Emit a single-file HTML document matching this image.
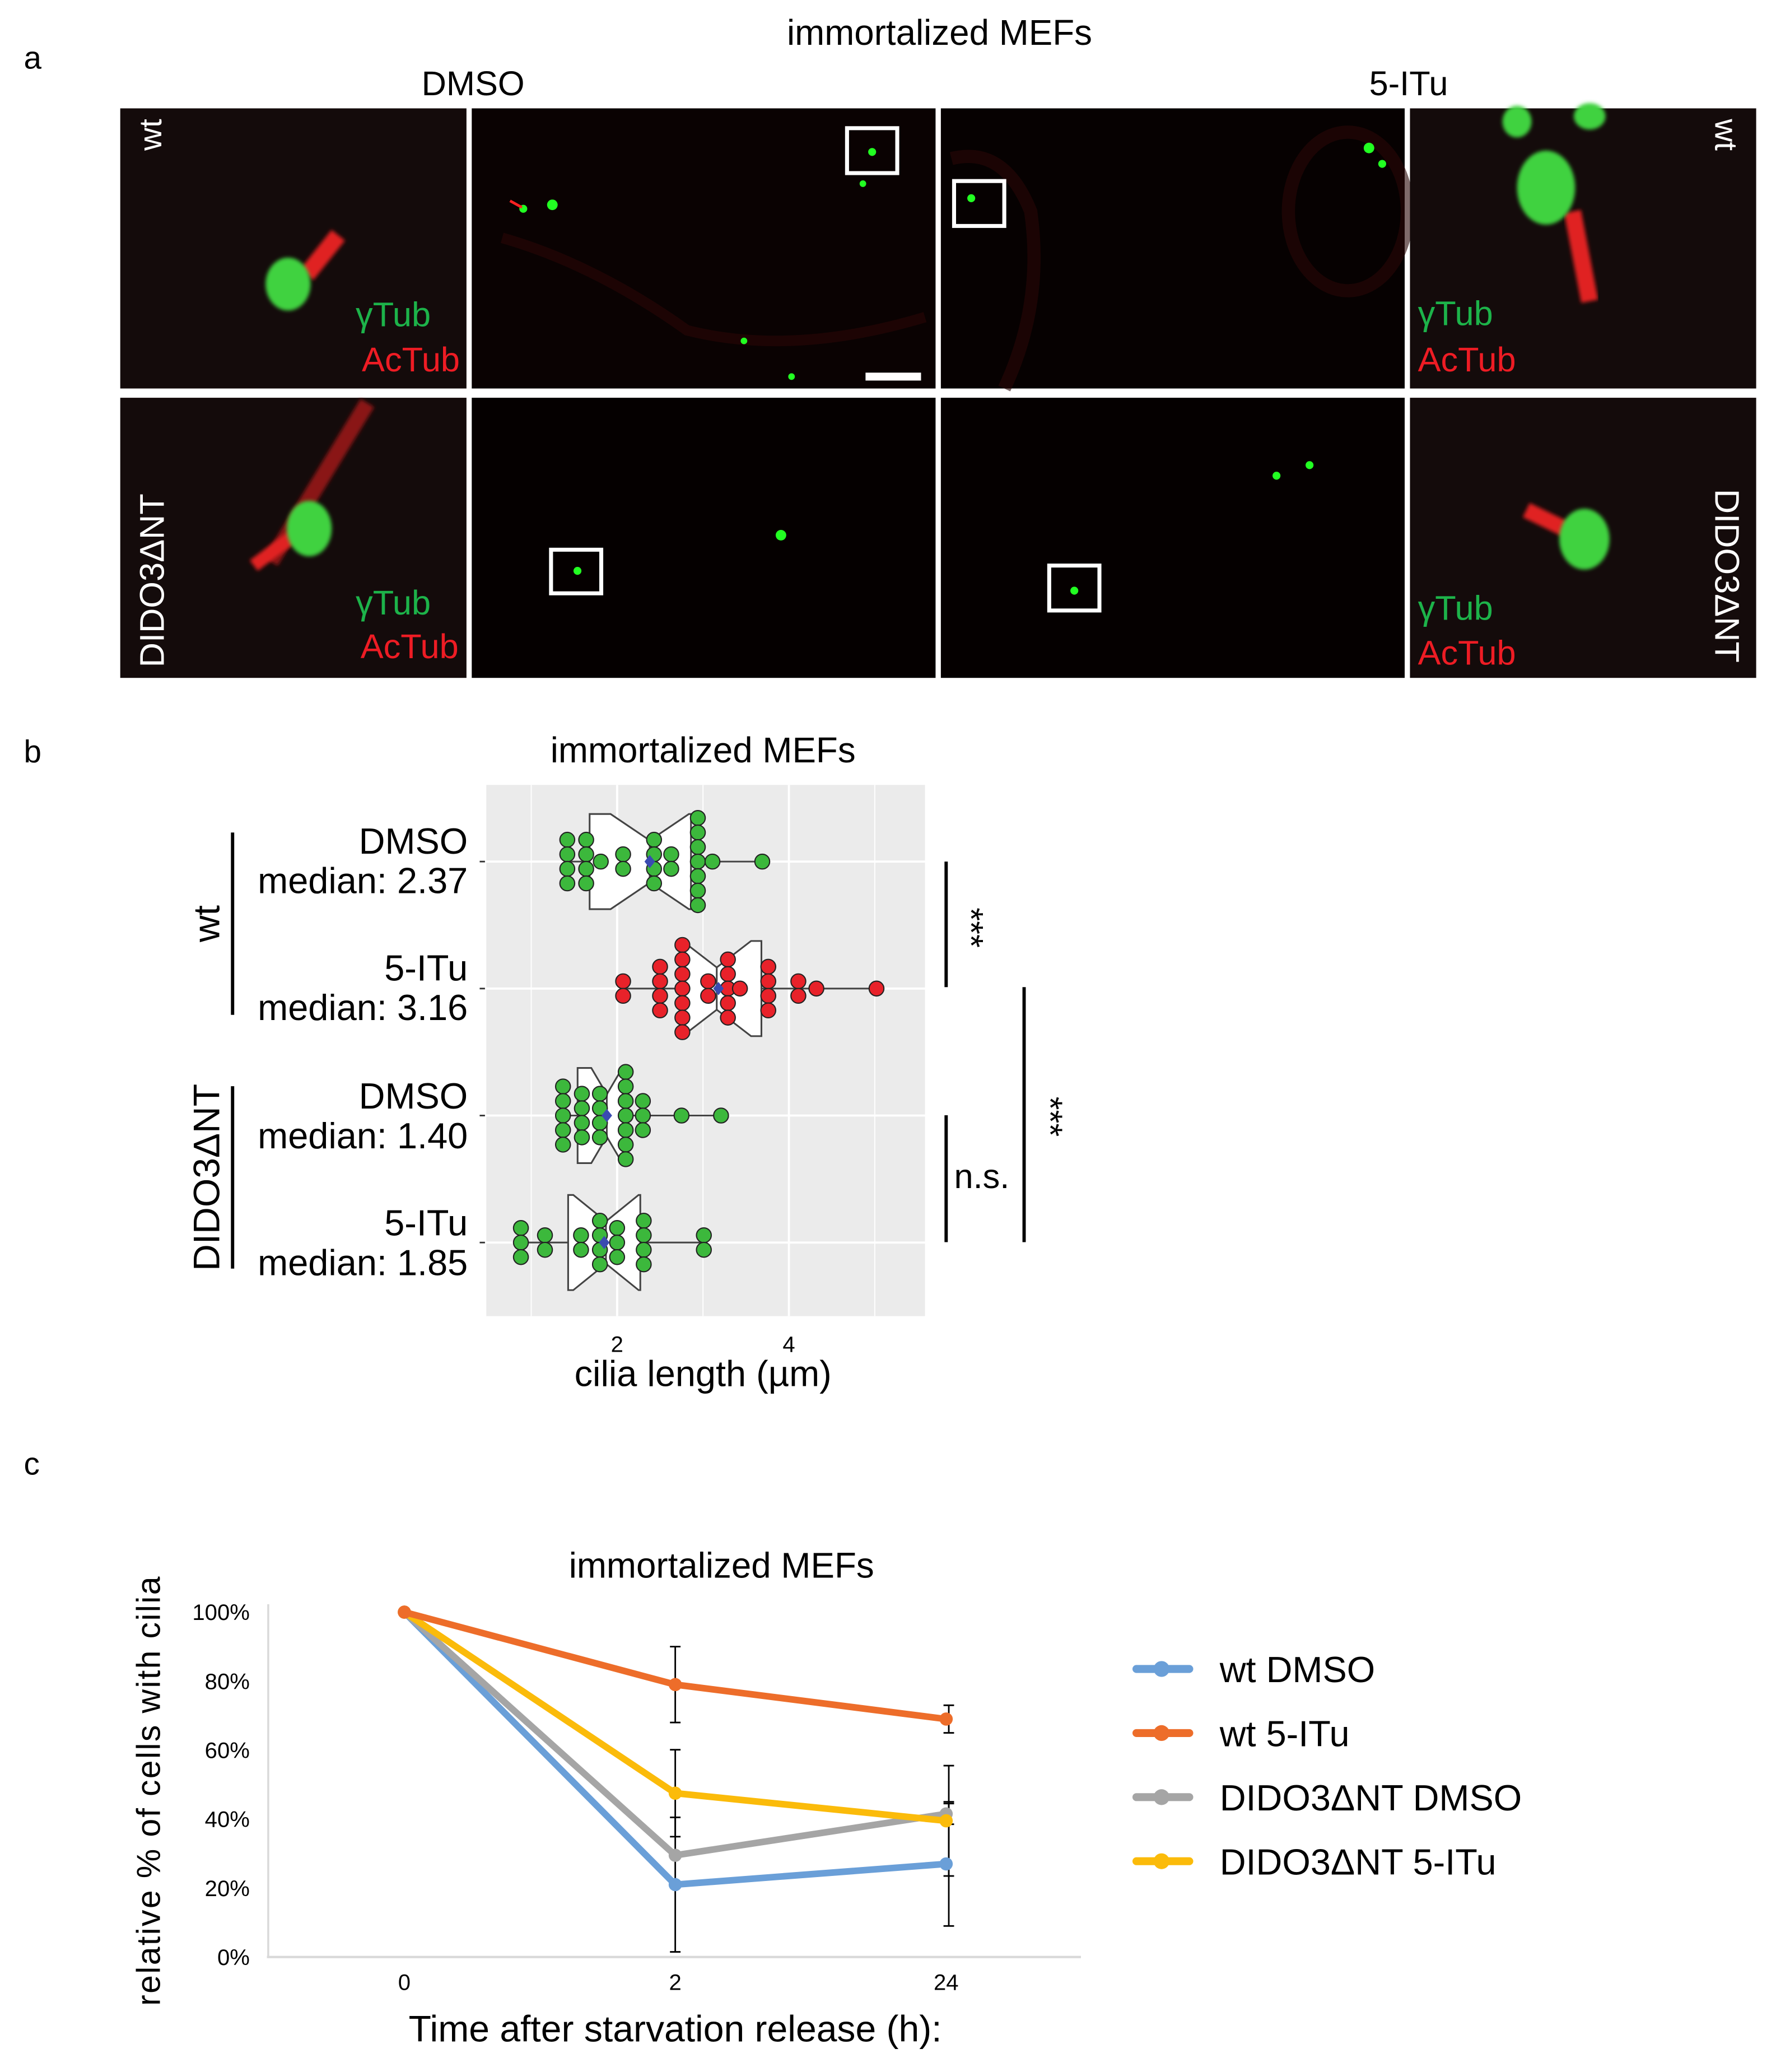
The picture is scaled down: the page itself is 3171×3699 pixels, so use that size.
<!DOCTYPE html>
<html><head><meta charset="utf-8"><style>
html,body{margin:0;padding:0;background:#fff}
svg{display:block}
text{font-family:"Liberation Sans",sans-serif}
</style></head><body>
<svg id="fig" width="3171" height="3699" viewBox="0 0 1344 1568" preserveAspectRatio="none" xmlns="http://www.w3.org/2000/svg">
<defs>
<filter id="bl" x="-50%" y="-50%" width="200%" height="200%"><feGaussianBlur stdDeviation="1.5"/></filter>
</defs>
<rect width="1344" height="1568" fill="#fff"/>
<!-- Panel a -->
<g>
<text x="18" y="52" font-size="24">a</text>
<text x="711" y="34" font-size="27" text-anchor="middle">immortalized MEFs</text>
<text x="358" y="72" font-size="26" text-anchor="middle">DMSO</text>
<text x="1066" y="72" font-size="26" text-anchor="middle">5-ITu</text>
<!-- row 1 -->
<g>
<rect x="91" y="82" width="262" height="212" fill="#140b0b"/>
<line x1="232" y1="208" x2="256" y2="178" stroke="#e02020" stroke-width="13" filter="url(#bl)"/>
<ellipse cx="218" cy="215" rx="17" ry="20" fill="#3fd23f" filter="url(#bl)"/>
<text transform="translate(122,90) rotate(-90)" font-size="24" fill="#fff" text-anchor="end">wt</text>
<text x="326" y="247" font-size="26" fill="#1db34a" text-anchor="end">γTub</text>
<text x="348" y="281" font-size="26" fill="#ee1c24" text-anchor="end">AcTub</text>
</g>
<g>
<rect x="357" y="82" width="351" height="212" fill="#0a0202"/>
<path d="M380 180 Q450 200 520 250 Q600 270 700 240" stroke="#2a0606" stroke-width="8" fill="none" opacity="0.6"/>
<circle cx="396" cy="158" r="3" fill="#2f2"/><circle cx="418" cy="155" r="4" fill="#2f2"/>
<circle cx="660" cy="115" r="3" fill="#2f2"/><circle cx="653" cy="139" r="2.5" fill="#2f2"/>
<circle cx="563" cy="258" r="2.5" fill="#2f2"/><circle cx="599" cy="285" r="2.5" fill="#2f2"/>
<line x1="386" y1="152" x2="395" y2="157" stroke="#f22" stroke-width="2"/>
<rect x="641" y="97" width="38" height="34" fill="none" stroke="#fff" stroke-width="3"/>
<rect x="655" y="282" width="42" height="6" fill="#fff"/>
</g>
<g>
<rect x="712" y="82" width="351" height="212" fill="#060101"/>
<ellipse cx="1020" cy="160" rx="45" ry="60" stroke="#2a0606" stroke-width="10" fill="none" opacity="0.6"/>
<path d="M720 120 Q760 110 780 160 Q790 230 760 294" stroke="#2a0606" stroke-width="10" fill="none" opacity="0.6"/>
<circle cx="735" cy="150" r="3" fill="#2f2"/><circle cx="1036" cy="112" r="4" fill="#2f2"/><circle cx="1046" cy="124" r="3" fill="#2f2"/>
<rect x="722" y="137" width="38" height="34" fill="none" stroke="#fff" stroke-width="3"/>
</g>
<g>
<rect x="1067" y="82" width="262" height="212" fill="#140b0b"/>
<line x1="1190" y1="160" x2="1203" y2="228" stroke="#e02020" stroke-width="13" filter="url(#bl)"/>
<ellipse cx="1170" cy="142" rx="22" ry="28" fill="#3fd23f" filter="url(#bl)"/>
<ellipse cx="1148" cy="92" rx="11" ry="12" fill="#3fd23f" filter="url(#bl)"/>
<ellipse cx="1203" cy="88" rx="12" ry="10" fill="#3fd23f" filter="url(#bl)"/>
<text transform="translate(1298,90) rotate(90)" font-size="24" fill="#fff">wt</text>
<text x="1073" y="246" font-size="26" fill="#1db34a">γTub</text>
<text x="1073" y="281" font-size="26" fill="#ee1c24">AcTub</text>
</g>
<!-- row 2 -->
<g>
<rect x="91" y="301" width="262" height="212" fill="#140b0b"/>
<line x1="205" y1="425" x2="278" y2="305" stroke="#8a1515" stroke-width="12" filter="url(#bl)"/>
<line x1="192" y1="428" x2="232" y2="398" stroke="#e02020" stroke-width="10" filter="url(#bl)"/>
<ellipse cx="234" cy="400" rx="17" ry="21" fill="#3fd23f" filter="url(#bl)"/>
<text transform="translate(124,505) rotate(-90)" font-size="26" fill="#fff">DIDO3ΔNT</text>
<text x="326" y="465" font-size="26" fill="#1db34a" text-anchor="end">γTub</text>
<text x="347" y="498" font-size="26" fill="#ee1c24" text-anchor="end">AcTub</text>
</g>
<g>
<rect x="357" y="301" width="351" height="212" fill="#050000"/>
<circle cx="437" cy="432" r="3" fill="#2f2"/><circle cx="591" cy="405" r="4" fill="#2f2"/>
<rect x="417" y="416" width="38" height="33" fill="none" stroke="#fff" stroke-width="3"/>
</g>
<g>
<rect x="712" y="301" width="351" height="212" fill="#050000"/>
<circle cx="813" cy="447" r="3" fill="#2f2"/><circle cx="966" cy="360" r="3" fill="#2f2"/><circle cx="991" cy="352" r="3" fill="#2f2"/>
<rect x="794" y="428" width="38" height="34" fill="none" stroke="#fff" stroke-width="3"/>
</g>
<g>
<rect x="1067" y="301" width="262" height="212" fill="#140b0b"/>
<line x1="1155" y1="386" x2="1190" y2="403" stroke="#e02020" stroke-width="12" filter="url(#bl)"/>
<ellipse cx="1199" cy="408" rx="19" ry="23" fill="#3fd23f" filter="url(#bl)"/>
<text transform="translate(1298,370) rotate(90)" font-size="26" fill="#fff">DIDO3ΔNT</text>
<text x="1073" y="469" font-size="26" fill="#1db34a">γTub</text>
<text x="1073" y="503" font-size="26" fill="#ee1c24">AcTub</text>
</g>
</g>

<!-- Panel b -->
<g id="pb">
<text x="18" y="577" font-size="24">b</text>
<text x="532" y="577" font-size="27" text-anchor="middle">immortalized MEFs</text>
<rect x="368" y="594" width="332" height="402" fill="#ebebeb"/>
<g id="pbgrid"></g>
<g id="pbmarks"></g>
<g font-size="27.5" text-anchor="end">
<text x="354" y="646">DMSO</text><text x="354" y="676">median: 2.37</text>
<text x="354" y="742">5-ITu</text><text x="354" y="772">median: 3.16</text>
<text x="354" y="839">DMSO</text><text x="354" y="869">median: 1.40</text>
<text x="354" y="935">5-ITu</text><text x="354" y="965">median: 1.85</text>
</g>
<line x1="176" y1="630" x2="176" y2="768" stroke="#000" stroke-width="2.5"/>
<text transform="translate(166,699) rotate(-90)" font-size="28" text-anchor="middle">wt</text>
<line x1="176" y1="822" x2="176" y2="960" stroke="#000" stroke-width="2.5"/>
<text transform="translate(166,891) rotate(-90)" font-size="28" text-anchor="middle">DIDO3ΔNT</text>
<g>
<line x1="716" y1="652" x2="716" y2="747" stroke="#000" stroke-width="2.5"/>
<text transform="translate(726,702) rotate(90)" font-size="26" text-anchor="middle">***</text>
<line x1="716" y1="844" x2="716" y2="940" stroke="#000" stroke-width="2.5"/>
<text x="722" y="899" font-size="26">n.s.</text>
<line x1="775" y1="747" x2="775" y2="940" stroke="#000" stroke-width="2.5"/>
<text transform="translate(786,845) rotate(90)" font-size="26" text-anchor="middle">***</text>
</g>
<text x="532" y="1049" font-size="27.5" text-anchor="middle">cilia length (µm)</text>
</g>

<!-- Panel c -->
<g id="pc">
<text x="18" y="1116" font-size="24">c</text>
<text x="546" y="1194" font-size="27" text-anchor="middle">immortalized MEFs</text>
<text transform="translate(121,1355) rotate(-90)" font-size="25" text-anchor="middle" letter-spacing="1">relative % of cells with cilia</text>
<text x="511" y="1545" font-size="28" text-anchor="middle">Time after starvation release (h):</text>
<g id="pcaxes"></g>
<g id="pcmarks"></g>
<g id="pclegend"></g>
</g>
</svg>
<script>
// ---- Panel b data ----
const bRows = ["wt DMSO","wt 5-ITu","DIDO3ΔNT DMSO","DIDO3ΔNT 5-ITu"];
const bTicks = [2,4];
const bDots1 = [1.42,1.42,1.42,1.42,1.64,1.64,1.64,1.64,1.81,2.07,2.07,2.43,2.43,2.43,2.43,2.63,2.63,2.94,2.94,2.94,2.94,2.94,2.94,2.94,3.11,3.69];
const bDots2 = [2.07,2.07,2.5,2.5,2.5,2.5,2.76,2.76,2.76,2.76,2.76,2.76,2.76,3.06,3.06,3.29,3.29,3.29,3.29,3.29,3.43,3.76,3.76,3.76,3.76,4.11,4.11,4.32,5.02];
const bDots3 = [1.37,1.37,1.37,1.37,1.37,1.59,1.59,1.59,1.59,1.8,1.8,1.8,1.8,2.1,2.1,2.1,2.1,2.1,2.1,2.1,2.3,2.3,2.3,2.75,3.21];
const bDots4 = [0.88,0.88,0.88,1.16,1.16,1.58,1.58,1.8,1.8,1.8,1.8,2.0,2.0,2.0,2.31,2.31,2.31,2.31,3.01,3.01];
const bQ1 = [1.68,2.74,1.54,1.43];
const bMed = [2.38,3.16,1.88,1.87];
const bQ3 = [2.86,3.68,2.07,2.27];
const bMean = [2.38,3.18,1.88,1.85];
const bColors = ["#3cb83c","#e8222a","#3cb83c","#3cb83c"];

const NS="http://www.w3.org/2000/svg";
function mk(tag, attrs, parent){const e=document.createElementNS(NS,tag);for(const k in attrs)e.setAttribute(k,attrs[k]);parent.appendChild(e);return e;}
const bx = v => 337 + v*65;
const by = i => 652 + i*96.1;
const gridG=document.getElementById('pbgrid');
for (let v=1; v<=5; v++){
  const l=mk('line',{x1:bx(v),x2:bx(v),y1:594,y2:996,stroke:'#fff','stroke-width':v%2===0?1.6:0.8},gridG);
  
  
}
bRows.forEach((r,i)=>{
  const l=mk('line',{x1:368,x2:700,y1:by(i),y2:by(i),stroke:'#fff','stroke-width':1.6},gridG);
  
  
  const t=mk('line',{x1:363,x2:367,y1:by(i),y2:by(i),stroke:'#333','stroke-width':1.2},gridG);
  
  
});
bTicks.forEach(v=>{
  const t=mk('text',{x:bx(v),y:1023,'font-size':17,'text-anchor':'middle'},gridG);
  t.textContent=v;
  
  
});
const marks=document.getElementById('pbmarks');
[bDots1,bDots2,bDots3,bDots4].forEach((dots,i)=>{
  const y=by(i), h=36, nh=16;
  const mn=Math.min(...dots), mx=Math.max(...dots);
  const g=mk('g',{},marks);
  
  
  const w=mk('line',{x1:bx(mn),x2:bx(mx),y1:y,y2:y,stroke:'#444','stroke-width':1.3},g);
  
  
  const q1=bx(bQ1[i]),q3=bx(bQ3[i]),m=bx(bMed[i]);
  const nw=Math.min(m-q1,q3-m)*0.95;
  const p=mk('path',{d:`M${q1},${y-h} L${m-nw},${y-h} L${m},${y-h+nh+4} L${m+nw},${y-h} L${q3},${y-h} L${q3},${y+h} L${m+nw},${y+h} L${m},${y+h-nh-4} L${m-nw},${y+h} L${q1},${y+h} Z`,fill:'#fff',stroke:'#444','stroke-width':1.3},g);
  
  
  const ml=mk('line',{x1:m,x2:m,y1:y-h+nh+4,y2:y+h-nh-4,stroke:'#444','stroke-width':1.3},g);
  
  
  const counts={};
  dots.forEach(v=>{counts[v]=(counts[v]||0)+1;});
  const seen={};
  dots.forEach(v=>{
    const n=counts[v]; const k=seen[v]||0; seen[v]=k+1;
    const cy=y+(k-(n-1)/2)*11;
    const c=mk('circle',{cx:bx(v),cy:cy,r:5.6,fill:bColors[i],stroke:'#222','stroke-width':0.9},g);
    
    
  });
  const mx0=bx(bMean[i]);
  const d=mk('path',{d:`M${mx0},${y-5} L${mx0+4},${y} L${mx0},${y+5} L${mx0-4},${y} Z`,fill:'#3a4bb0'},g);
  
  
});

// ---- Panel c data ----
const cCats = ["0","2","24"];
const cSeries = ["wt DMSO","wt 5-ITu","DIDO3ΔNT DMSO","DIDO3ΔNT 5-ITu"];
const cColors = ["#6a9fd8","#ed6d2a","#a5a5a5","#fbbb0a"];
const wtDmso = [100,21,27];
const wtItu = [100,79,69];
const didoDmso = [100,29.5,41.5];
const didoItu = [100,47.5,39.5];
const errWtDmso = [0,19.5,18];
const errWtItu = [0,11,4];
const errDidoDmso = [0,0,3];
const errDidoItu = [0,12.6,16];
const cYTicks = [0,20,40,60,80,100];

const cx = i => 306 + i*205;
const cy = v => 1481 - v*2.61;
const ax=document.getElementById('pcaxes');
const yaxis=mk('line',{x1:203,x2:203,y1:1214,y2:1481,stroke:'#d9d9d9','stroke-width':1.5},ax);


const xaxis=mk('line',{x1:202,x2:818,y1:1481,y2:1481,stroke:'#d9d9d9','stroke-width':1.8},ax);


cYTicks.forEach(v=>{
  const t=mk('text',{x:189,y:cy(v)+6,'font-size':17,'text-anchor':'end'},ax);
  t.textContent=v+'%';
  
  
});
cCats.forEach((c,i)=>{
  const t=mk('text',{x:cx(i),y:1506,'font-size':17,'text-anchor':'middle'},ax);
  t.textContent=c;
  
  
});
const cm=document.getElementById('pcmarks');
const cData=[wtDmso,wtItu,didoDmso,didoItu];
const cErr=[errWtDmso,errWtItu,errDidoDmso,errDidoItu];
cData.forEach((s,si)=>{
  s.forEach((v,i)=>{
    const e=cErr[si][i]; if(!e) return;
    const g=mk('g',{stroke:'#000','stroke-width':1.2},cm);
    
    
    const x=cx(i)+(i===2?2:0);
    mk('line',{x1:x,x2:x,y1:cy(v+e),y2:cy(v-e)},g);
    mk('line',{x1:x-4,x2:x+4,y1:cy(v+e),y2:cy(v+e)},g);
    mk('line',{x1:x-4,x2:x+4,y1:cy(v-e),y2:cy(v-e)},g);
  });
});
[0,2,3,1].forEach(si=>{
  const s=cData[si];
  const g=mk('g',{},cm);
  
  
  const pl=mk('polyline',{points:s.map((v,i)=>cx(i)+','+cy(v)).join(' '),fill:'none',stroke:cColors[si],'stroke-width':5,'stroke-linejoin':'round'},g);
  
  
  s.forEach((v,i)=>{
    const c=mk('circle',{cx:cx(i),cy:cy(v),r:5,fill:cColors[si]},g);
    
    
  });
});
const lg=document.getElementById('pclegend');
cSeries.forEach((s,i)=>{
  const y=1263+i*48.5;
  const g=mk('g',{},lg);
  
  
  mk('line',{x1:860,x2:900,y1:y,y2:y,stroke:cColors[i],'stroke-width':6,'stroke-linecap':'round'},g);
  mk('circle',{cx:879,cy:y,r:6,fill:cColors[i]},g);
  const t=mk('text',{x:923,y:y+10,'font-size':27.5},g);
  t.textContent=s;
});
</script>
</body></html>
